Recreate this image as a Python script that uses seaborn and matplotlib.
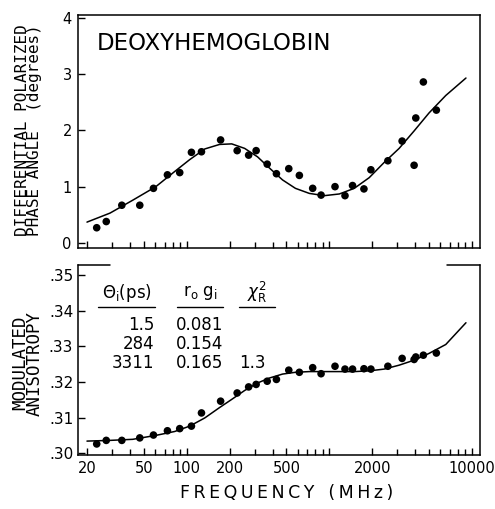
import matplotlib
matplotlib.use("Agg")
import matplotlib.pyplot as plt
from matplotlib.lines import Line2D
from matplotlib.ticker import FixedLocator, FixedFormatter, LogLocator, NullFormatter
import seaborn as sns
import numpy as np
import pandas as pd

# ---------------- data ----------------
freq_mhz = [23.4, 27.3, 35.1, 46.9, 58.5, 73.3, 89.4, 108, 127, 173, 226, 272, 307,
            367, 426, 520, 617, 765, 876, 1097, 1289, 1456, 1750, 1958, 2576, 3242,
            3934, 4043, 4568, 5634]
phase_deg = [0.27, 0.38, 0.67, 0.67, 0.97, 1.21, 1.25, 1.61, 1.62, 1.83, 1.64, 1.56, 1.64,
             1.40, 1.23, 1.32, 1.20, 0.97, 0.85, 1.00, 0.84, 1.02, 0.96, 1.30, 1.46, 1.81,
             1.38, 2.22, 2.86, 2.36]
anisotropy = [0.3026, 0.3036, 0.3036, 0.3043, 0.3051, 0.3063, 0.3069, 0.3076, 0.3113,
              0.3146, 0.3169, 0.3186, 0.3193, 0.3202, 0.3207, 0.3233, 0.3227, 0.3240,
              0.3223, 0.3244, 0.3236, 0.3236, 0.3237, 0.3236, 0.3244, 0.3266, 0.3263,
              0.3270, 0.3275, 0.3281]

fit_freq = [20, 29.0, 41.9, 60.8, 82.5, 105, 134, 170, 207, 255, 314, 381, 470, 579,
            725, 923, 1176, 1497, 1906, 2426, 3090, 3934, 5008, 6560, 9086]
fit_phase = [0.37, 0.53, 0.76, 1.00, 1.27, 1.48, 1.67, 1.75, 1.76, 1.68, 1.53, 1.33,
             1.12, 0.97, 0.88, 0.84, 0.87, 0.97, 1.16, 1.43, 1.68, 1.99, 2.31, 2.62, 2.93]
fit_aniso = [0.3034, 0.3036, 0.3039, 0.3050, 0.3061, 0.3076, 0.3099, 0.3128, 0.3151,
             0.3176, 0.3197, 0.3211, 0.3222, 0.3227, 0.3229, 0.3229, 0.3229, 0.3229,
             0.3231, 0.3236, 0.3247, 0.3261, 0.3280, 0.3305, 0.3366]

x_ticks = [20, 50, 100, 200, 500, 1000, 2000, 10000]
x_tick_labels = ["20", "50", "100", "200", "500", "", "2000", "10000"]
phase_ticks = [0, 1, 2, 3, 4]
aniso_ticks = [0.30, 0.31, 0.32, 0.33, 0.34, 0.35]
aniso_tick_labels = [".30", ".31", ".32", ".33", ".34", ".35"]

table_header = [r"$\Theta_\mathrm{i}$(ps)", r"r$_\mathrm{o}$ g$_\mathrm{i}$", r"$\chi^2_\mathrm{R}$"]
table_theta = ["1.5", "284", "3311"]
table_rg = ["0.081", "0.154", "0.165"]
table_chi = ["", "", "1.3"]

df_pts = pd.DataFrame({"f": freq_mhz, "phase": phase_deg, "r": anisotropy})
df_fit = pd.DataFrame({"f": fit_freq, "phase": fit_phase, "r": fit_aniso})

# ---------------- style ----------------
sns.set_theme(style="ticks")
plt.rcParams["font.family"] = ["DejaVu Sans"]
plt.rcParams["mathtext.fontset"] = "dejavusans"

W, H = 495, 509
fig = plt.figure(figsize=(W / 100, H / 100), dpi=100)
fig.patch.set_facecolor("white")

def fx(px):
    return px / W

def fy(py):
    return 1 - py / H

L, R = 78, 480
ax1 = fig.add_axes([fx(L), fy(248), fx(R - L), (248 - 15) / H])
ax2 = fig.add_axes([fx(L), fy(455), fx(R - L), (455 - 265) / H])

for ax in (ax1, ax2):
    ax.set_facecolor("white")
    ax.set_xscale("log")
    for sp in ax.spines.values():
        sp.set_color("black")
        sp.set_linewidth(1.1)
    ax.tick_params(which="both", direction="in", color="black", width=1.0,
                   top=False, right=False, labelcolor="black")
    ax.tick_params(which="major", length=5)
    ax.tick_params(which="minor", length=4)
    ax.xaxis.set_major_locator(FixedLocator(x_ticks))
    ax.xaxis.set_minor_locator(LogLocator(base=10, subs=np.arange(2, 10)))
    ax.xaxis.set_minor_formatter(NullFormatter())
    ax.set_xlim(17.3, 11400)
    ax.grid(False)

# top panel
sns.lineplot(data=df_fit, x="f", y="phase", ax=ax1, color="black", linewidth=1.1)
sns.scatterplot(data=df_pts, x="f", y="phase", ax=ax1, color="black", s=30,
                edgecolor="none", zorder=3)
ax1.set_ylim(-0.09, 4.05)
ax1.yaxis.set_major_locator(FixedLocator(phase_ticks))
ax1.yaxis.set_major_formatter(FixedFormatter([str(v) for v in phase_ticks]))
ax1.xaxis.set_major_formatter(NullFormatter())
ax1.tick_params(axis="y", labelsize=10.5, pad=4.5)
ax1.set_xlabel("")
ax1.set_ylabel("")

# bottom panel
sns.lineplot(data=df_fit, x="f", y="r", ax=ax2, color="black", linewidth=1.1)
sns.scatterplot(data=df_pts, x="f", y="r", ax=ax2, color="black", s=30,
                edgecolor="none", zorder=3)
ax2.set_ylim(0.2995, 0.3528)
ax2.yaxis.set_major_locator(FixedLocator(aniso_ticks))
ax2.yaxis.set_major_formatter(FixedFormatter(aniso_tick_labels))
ax2.xaxis.set_major_formatter(FixedFormatter(x_tick_labels))
ax2.tick_params(axis="y", labelsize=11, pad=3.5)
ax2.tick_params(axis="x", labelsize=10.5, pad=4.5)
ax2.set_xlabel("")
ax2.set_ylabel("")
ax2.spines["top"].set_visible(False)
for x0, x1 in [(L, 110), (447, R)]:
    ax2.add_line(Line2D([(x0 - L) / (R - L), (x1 - L) / (R - L)], [1, 1],
                        transform=ax2.transAxes, color="black", lw=1.1, clip_on=False))

# texts
fig.text(fx(97), fy(43), "DEOXYHEMOGLOBIN", fontsize=16.5, ha="left", va="center",
         color="black")
mono = "DejaVu Sans Mono"
fig.text(fx(28.5), fy(130), "DIFFERENTIAL POLARIZED\nPHASE ANGLE  (degrees)",
         rotation=90, ha="center", va="center", multialignment="center",
         linespacing=0.8, fontsize=11.5, family=mono, color="black")
fig.text(fx(27.5), fy(363), "MODULATED\nANISOTROPY", rotation=90, ha="center",
         va="center", multialignment="center", linespacing=0.8, fontsize=12.5,
         family=mono, color="black")
fig.text(fx(286.5), fy(493),
         "\u2009".join("FREQUENCY") + "\u2009\u2009\u2009\u2009(\u2009M\u2009H\u2009z\u2009)",
         ha="center", va="center", fontsize=12.5, color="black")

# table inside bottom panel
fig.text(fx(126.5), fy(293), table_header[0], ha="center", va="center", fontsize=12,
         color="black")
fig.text(fx(200), fy(293), table_header[1], ha="center", va="center", fontsize=12,
         color="black")
fig.text(fx(257), fy(292), table_header[2], ha="center", va="center", fontsize=12,
         color="black")
for x0, x1 in [(98, 155), (177, 223), (239, 275)]:
    fig.add_artist(Line2D([fx(x0), fx(x1)], [fy(307), fy(307)], color="black", lw=1.0))
row_y = [325, 344, 363.5]
for yy, a, b, c in zip(row_y, table_theta, table_rg, table_chi):
    fig.text(fx(154), fy(yy), a, ha="right", va="center", fontsize=12, color="black")
    fig.text(fx(176), fy(yy), b, ha="left", va="center", fontsize=12, color="black")
    if c:
        fig.text(fx(239), fy(yy), c, ha="left", va="center", fontsize=12, color="black")

fig.savefig("out.png", dpi=100, facecolor="white")
